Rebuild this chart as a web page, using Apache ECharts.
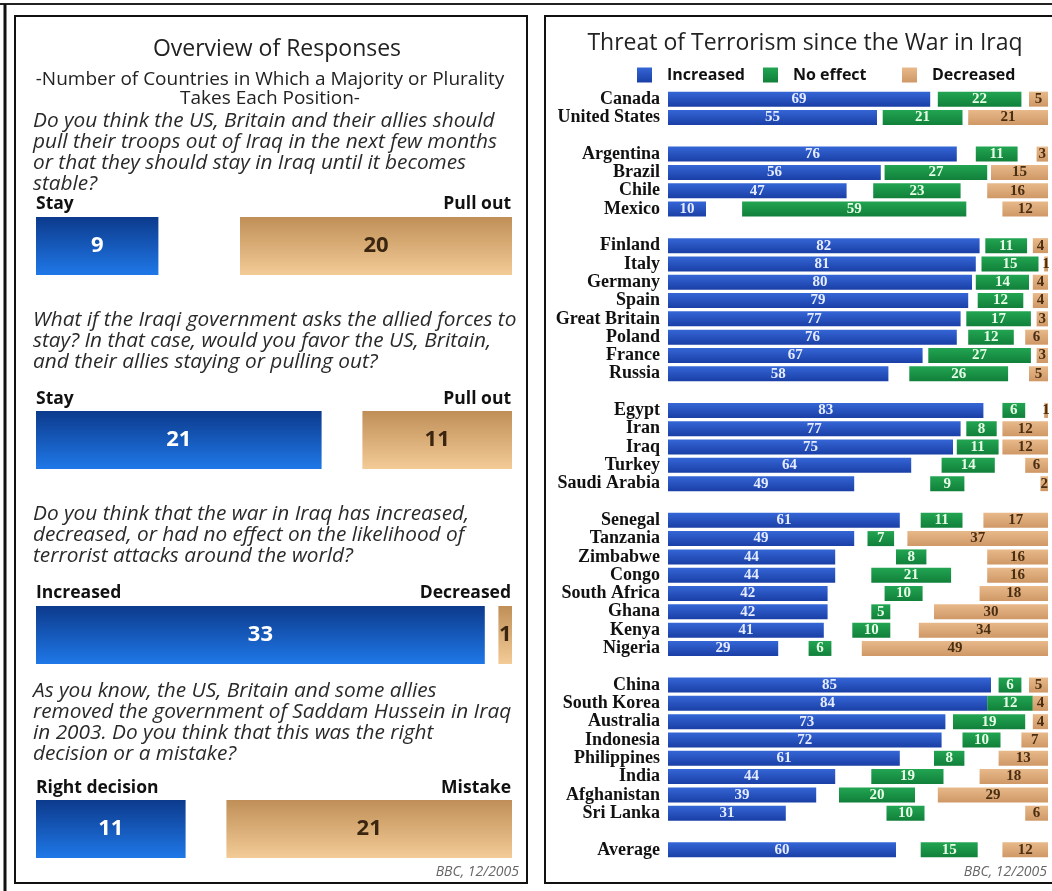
<!DOCTYPE html>
<html>
<head>
<meta charset="utf-8">
<title>Iraq poll</title>
<script src="https://cdn.jsdelivr.net/npm/echarts@6/dist/echarts.min.js"></script>
<style>
html, body { margin: 0; padding: 0; background: #fff; }
#chart { width: 1052px; height: 891px; }
</style>
</head>
<body>
<div id="chart"></div>
<script>
// ---- left panel: overview of responses (number of countries) ----
var totalCountries = 35;
var questions = [
    ['Do you think the US, Britain and their allies should',
     'pull their troops out of Iraq in the next few months',
     'or that they should stay in Iraq until it becomes',
     'stable?'],
    ['What if the Iraqi government asks the allied forces to',
     'stay? In that case, would you favor the US, Britain,',
     'and their allies staying or pulling out?'],
    ['Do you think that the war in Iraq has increased,',
     'decreased, or had no effect on the likelihood of',
     'terrorist attacks around the world?'],
    ['As you know, the US, Britain and some allies',
     'removed the government of Saddam Hussein in Iraq',
     'in 2003. Do you think that this was the right',
     'decision or a mistake?']
];
var leftNames = ['Stay', 'Stay', 'Increased', 'Right decision'];
var rightNames = ['Pull out', 'Pull out', 'Decreased', 'Mistake'];
var leftValues = [9, 21, 33, 11];
var rightValues = [20, 11, 1, 21];

// ---- right panel: threat of terrorism (percent) ----
var countries = ['Canada', 'United States', '',
    'Argentina', 'Brazil', 'Chile', 'Mexico', '',
    'Finland', 'Italy', 'Germany', 'Spain', 'Great Britain', 'Poland', 'France', 'Russia', '',
    'Egypt', 'Iran', 'Iraq', 'Turkey', 'Saudi Arabia', '',
    'Senegal', 'Tanzania', 'Zimbabwe', 'Congo', 'South Africa', 'Ghana', 'Kenya', 'Nigeria', '',
    'China', 'South Korea', 'Australia', 'Indonesia', 'Philippines', 'India', 'Afghanistan', 'Sri Lanka', '',
    'Average'];
var increased = [69, 55, null, 76, 56, 47, 10, null, 82, 81, 80, 79, 77, 76, 67, 58, null,
    83, 77, 75, 64, 49, null, 61, 49, 44, 44, 42, 42, 41, 29, null,
    85, 84, 73, 72, 61, 44, 39, 31, null, 60];
var noEffect = [22, 21, null, 11, 27, 23, 59, null, 11, 15, 14, 12, 17, 12, 27, 26, null,
    6, 8, 11, 14, 9, null, 11, 7, 8, 21, 10, 5, 10, 6, null,
    6, 12, 19, 10, 8, 19, 20, 10, null, 15];
var decreased = [5, 21, null, 3, 15, 16, 12, null, 4, 1, 4, 4, 3, 6, 3, 5, null,
    1, 12, 12, 6, 2, null, 17, 37, 16, 16, 18, 30, 34, 49, null,
    5, 4, 4, 7, 13, 18, 29, 6, null, 12];

var sans = '"Open Sans", Lato, sans-serif';
var serif = '"Liberation Serif", "DejaVu Serif", serif';

function vgrad(top, bottom) {
    return new echarts.graphic.LinearGradient(0, 0, 0, 1, [
        {offset: 0, color: top}, {offset: 1, color: bottom}
    ]);
}
var bigBlue = vgrad('#0c3a8c', '#1f78e8');
var bigTan = vgrad('#c08f58', '#f3cb96');
var blue = vgrad('#3566d6', '#1a3fa6');
var green = vgrad('#22a552', '#11803a');
var tan = vgrad('#e8b98a', '#cf9866');

function txt(text, x, y, font, align, fill) {
    return {
        type: 'text', silent: true,
        style: {
            text: text, x: x, y: y, font: font, fill: fill || '#222',
            textAlign: align || 'left', align: align || 'left',
            textVerticalAlign: 'middle', verticalAlign: 'middle'
        }
    };
}

// layout of the left panel
var barTops = [217, 411, 606, 800];
var questionTops = [121, 320, 514, 691];
var nameY = [204, 399, 593, 788];

var grids = [], xAxes = [], yAxes = [], series = [], graphics = [];

// frames
graphics.push({type: 'line', shape: {x1: 0, y1: 4, x2: 1052, y2: 4}, style: {stroke: '#222', lineWidth: 2}});
graphics.push({type: 'line', shape: {x1: 5, y1: 4, x2: 5, y2: 891}, style: {stroke: '#111', lineWidth: 3}});
graphics.push({type: 'rect', shape: {x: 15, y: 16, width: 512, height: 867}, style: {fill: 'none', stroke: '#111', lineWidth: 2}});
graphics.push({type: 'rect', shape: {x: 545, y: 16, width: 520, height: 867}, style: {fill: 'none', stroke: '#111', lineWidth: 2}});

graphics.push(txt('Overview of Responses', 277, 49, '23px ' + sans, 'center', '#222'));
graphics.push(txt('-Number of Countries in Which a Majority or Plurality', 270, 80, '19px ' + sans, 'center', '#222'));
graphics.push(txt('Takes Each Position-', 270, 99, '19px ' + sans, 'center', '#222'));
graphics.push(txt('BBC, 12/2005', 519, 872, 'italic 14px ' + sans, 'right', '#666'));
graphics.push(txt('Threat of Terrorism since the War in Iraq', 805, 43, '23px ' + sans, 'center', '#222'));
graphics.push(txt('BBC, 12/2005', 1047, 872, 'italic 14px ' + sans, 'right', '#666'));

for (var i = 0; i < questions.length; i++) {
    for (var l = 0; l < questions[i].length; l++) {
        graphics.push(txt(questions[i][l], 33, questionTops[i] + l * 21, 'italic 20.8px ' + sans, 'left', '#2a2a2a'));
    }
    graphics.push(txt(leftNames[i], 36, nameY[i], 'bold 17.5px ' + sans, 'left', '#111'));
    graphics.push(txt(rightNames[i], 511, nameY[i], 'bold 17.5px ' + sans, 'right', '#111'));

    grids.push({left: 36, width: 476, top: barTops[i], height: 58});
    xAxes.push({type: 'value', gridIndex: i, min: 0, max: totalCountries, show: false});
    yAxes.push({type: 'category', gridIndex: i, data: [''], show: false});
    var st = 'q' + i;
    series.push({
        type: 'bar', xAxisIndex: i, yAxisIndex: i, stack: st, barWidth: 58,
        data: [leftValues[i]], itemStyle: {color: bigBlue},
        label: {show: true, position: 'inside', color: '#fff', fontFamily: sans, fontWeight: 'bold', fontSize: 22}
    });
    series.push({
        type: 'bar', xAxisIndex: i, yAxisIndex: i, stack: st, barWidth: 58,
        data: [totalCountries - leftValues[i] - rightValues[i]],
        itemStyle: {color: 'transparent'}, silent: true
    });
    series.push({
        type: 'bar', xAxisIndex: i, yAxisIndex: i, stack: st, barWidth: 58,
        data: [rightValues[i]], itemStyle: {color: bigTan},
        label: {show: true, position: 'inside', color: '#3a2610', fontFamily: sans, fontWeight: 'bold', fontSize: 22}
    });
}

// right panel grid
var r = questions.length;
grids.push({left: 668, right: 4, top: 90, height: 769});
xAxes.push({type: 'value', gridIndex: r, min: 0, max: 100, show: false});
yAxes.push({
    type: 'category', gridIndex: r, data: countries, inverse: true,
    axisLine: {show: false}, axisTick: {show: false}, splitLine: {show: false},
    axisLabel: {color: '#111', fontFamily: serif, fontWeight: 'bold', fontSize: 18, margin: 8, interval: 0}
});

// the part nobody answered is split evenly before and after "No effect"
var gap = countries.map(function (c, k) {
    if (increased[k] == null) return null;
    return (100 - increased[k] - noEffect[k] - decreased[k]) / 2;
});

function rightBar(name, data, color, labelColor) {
    return {
        name: name, type: 'bar', xAxisIndex: r, yAxisIndex: r, stack: 'threat', barWidth: 15,
        data: data, itemStyle: {color: color},
        label: {show: true, position: 'inside', color: labelColor, fontFamily: serif, fontWeight: 'bold', fontSize: 15}
    };
}
function spacer(data) {
    return {type: 'bar', xAxisIndex: r, yAxisIndex: r, stack: 'threat', barWidth: 15,
        data: data, itemStyle: {color: 'transparent'}, silent: true};
}
series.push(rightBar('Increased', increased, blue, '#e6ecff'));
series.push(spacer(gap));
series.push(rightBar('No effect', noEffect, green, '#e8ffe8'));
series.push(spacer(gap));
series.push(rightBar('Decreased', decreased, tan, '#4a2e12'));

function legendAt(name, x) {
    return {
        data: [name], left: x, top: 62, icon: 'rect', itemWidth: 15, itemHeight: 15,
        textStyle: {color: '#111', fontFamily: sans, fontWeight: 'bold', fontSize: 16, padding: [0, 0, 0, 10]}
    };
}

var chart = echarts.init(document.getElementById('chart'));
chart.setOption({
    animation: false,
    backgroundColor: '#fff',
    grid: grids,
    xAxis: xAxes,
    yAxis: yAxes,
    legend: [legendAt('Increased', 632), legendAt('No effect', 758), legendAt('Decreased', 897)],
    series: series,
    graphic: graphics
});
</script>
</body>
</html>
